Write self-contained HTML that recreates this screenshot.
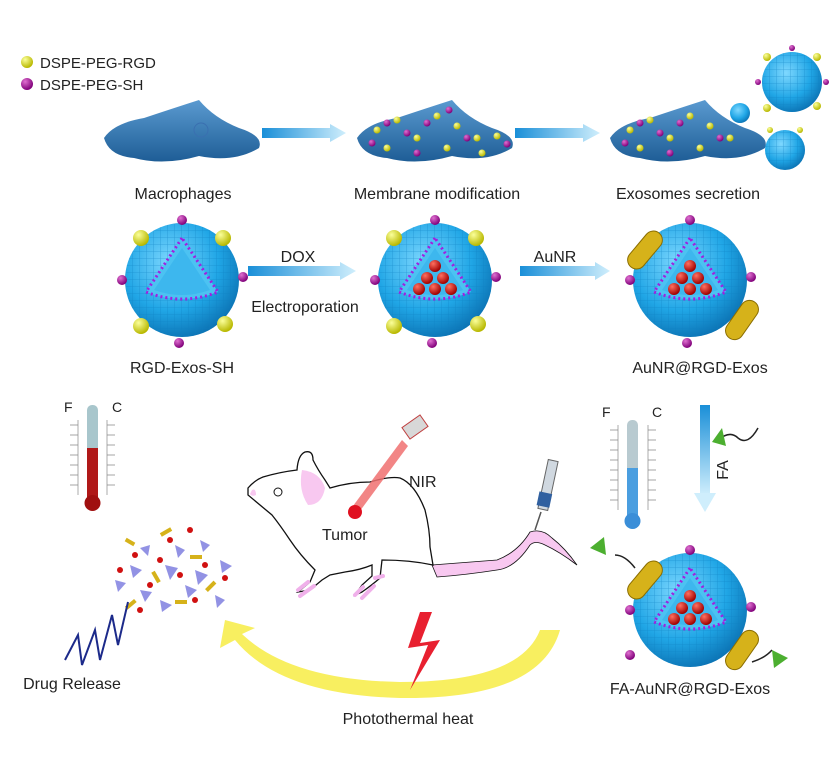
<!DOCTYPE html>
<html><head><style>
html,body{margin:0;padding:0;background:#fff}
svg text{font-family:"Liberation Sans",sans-serif;fill:#222}
</style></head><body>
<svg width="833" height="757" viewBox="0 0 833 757" xmlns="http://www.w3.org/2000/svg">
<defs>
<radialGradient id="sph" cx="0.4" cy="0.35" r="0.7">
<stop offset="0" stop-color="#7fd8ff"/><stop offset="0.6" stop-color="#20a6e6"/><stop offset="1" stop-color="#0a6fb0"/></radialGradient>
<radialGradient id="yb" cx="0.35" cy="0.3" r="0.7"><stop offset="0" stop-color="#fbff9a"/><stop offset="1" stop-color="#b8b800"/></radialGradient>
<radialGradient id="mb" cx="0.35" cy="0.3" r="0.7"><stop offset="0" stop-color="#e070d0"/><stop offset="1" stop-color="#80007a"/></radialGradient>
<radialGradient id="rb" cx="0.35" cy="0.3" r="0.7"><stop offset="0" stop-color="#ff7060"/><stop offset="1" stop-color="#a00000"/></radialGradient>
<linearGradient id="arr" x1="0" x2="1"><stop offset="0" stop-color="#1a8fd8"/><stop offset="1" stop-color="#cfeefc"/></linearGradient>
<linearGradient id="arrv" x1="0" y1="0" x2="0" y2="1"><stop offset="0" stop-color="#1a8fd8"/><stop offset="1" stop-color="#cfeefc"/></linearGradient>
<linearGradient id="cell" x1="0" y1="0" x2="0" y2="1"><stop offset="0" stop-color="#5a9ad0"/><stop offset="1" stop-color="#1e5d96"/></linearGradient>
<pattern id="grid" width="7" height="7" patternUnits="userSpaceOnUse"><rect width="7" height="7" fill="none"/><path d="M0 7H7M7 0V7" stroke="#0d7dc0" stroke-width="0.8" opacity="0.6"/></pattern>
<g id="exo">
<circle r="57" fill="url(#sph)"/><circle r="57" fill="url(#grid)"/>
<path d="M0,-42 L-36,12 Q0,26 36,12 Z" fill="#4cc2f2" stroke="#a020e0" stroke-width="3" stroke-dasharray="2 3"/>
<path d="M0,-32 L-28,10 Q0,20 28,10 Z" fill="#3ab4ec" fill-opacity="0.8"/>
</g>
<g id="lig">
<circle cx="-41" cy="-42" r="8" fill="url(#yb)"/><circle cx="41" cy="-42" r="8" fill="url(#yb)"/>
<circle cx="-41" cy="46" r="8" fill="url(#yb)"/><circle cx="43" cy="44" r="8" fill="url(#yb)"/>
<circle cx="0" cy="-60" r="5" fill="url(#mb)"/><circle cx="-60" cy="0" r="5" fill="url(#mb)"/>
<circle cx="61" cy="-3" r="5" fill="url(#mb)"/><circle cx="-3" cy="63" r="5" fill="url(#mb)"/>
</g>
<g id="dox">
<circle cx="0" cy="-14" r="6" fill="url(#rb)"/><circle cx="-8" cy="-2" r="6" fill="url(#rb)"/><circle cx="8" cy="-2" r="6" fill="url(#rb)"/>
<circle cx="-16" cy="9" r="6" fill="url(#rb)"/><circle cx="0" cy="9" r="6" fill="url(#rb)"/><circle cx="16" cy="9" r="6" fill="url(#rb)"/>
</g>
<g id="rod"><rect x="-9" y="-22" width="18" height="44" rx="9" fill="#d6b21a" stroke="#8a6d00" stroke-width="1"/></g>
<path id="cellshape" d="M0,30 Q10,15 40,10 Q70,0 95,-8 Q110,10 135,20 Q160,28 155,40 Q130,55 95,48 Q60,58 30,50 Q5,48 0,30Z"/>
</defs>

<circle cx="27" cy="62" r="6" fill="url(#yb)"/><text x="40" y="68" font-size="15">DSPE-PEG-RGD</text>
<circle cx="27" cy="84" r="6" fill="url(#mb)"/><text x="40" y="90" font-size="15">DSPE-PEG-SH</text>

<g transform="translate(104,108)"><use href="#cellshape" fill="url(#cell)"/><circle cx="97" cy="22" r="7" fill="none" stroke="#3a70b0"/></g>
<g transform="translate(357,108)"><use href="#cellshape" fill="url(#cell)"/>
<g fill="url(#yb)"><circle cx="20" cy="22" r="3.5"/><circle cx="40" cy="12" r="3.5"/><circle cx="60" cy="30" r="3.5"/><circle cx="80" cy="8" r="3.5"/><circle cx="100" cy="18" r="3.5"/><circle cx="120" cy="30" r="3.5"/><circle cx="140" cy="28" r="3.5"/><circle cx="30" cy="40" r="3.5"/><circle cx="90" cy="40" r="3.5"/><circle cx="125" cy="45" r="3.5"/></g>
<g fill="url(#mb)"><circle cx="30" cy="15" r="3.5"/><circle cx="50" cy="25" r="3.5"/><circle cx="70" cy="15" r="3.5"/><circle cx="92" cy="2" r="3.5"/><circle cx="110" cy="30" r="3.5"/><circle cx="60" cy="45" r="3.5"/><circle cx="150" cy="36" r="3.5"/><circle cx="15" cy="35" r="3.5"/></g></g>
<g transform="translate(610,108)"><use href="#cellshape" fill="url(#cell)"/>
<g fill="url(#yb)"><circle cx="20" cy="22" r="3.5"/><circle cx="40" cy="12" r="3.5"/><circle cx="60" cy="30" r="3.5"/><circle cx="80" cy="8" r="3.5"/><circle cx="100" cy="18" r="3.5"/><circle cx="120" cy="30" r="3.5"/><circle cx="30" cy="40" r="3.5"/><circle cx="90" cy="40" r="3.5"/></g>
<g fill="url(#mb)"><circle cx="30" cy="15" r="3.5"/><circle cx="50" cy="25" r="3.5"/><circle cx="70" cy="15" r="3.5"/><circle cx="110" cy="30" r="3.5"/><circle cx="60" cy="45" r="3.5"/><circle cx="15" cy="35" r="3.5"/></g></g>
<circle cx="792" cy="82" r="30" fill="url(#sph)"/><circle cx="792" cy="82" r="30" fill="url(#grid)"/>
<g fill="url(#yb)"><circle cx="767" cy="57" r="4"/><circle cx="817" cy="57" r="4"/><circle cx="767" cy="108" r="4"/><circle cx="817" cy="106" r="4"/><circle cx="770" cy="130" r="3"/><circle cx="800" cy="130" r="3"/></g>
<g fill="url(#mb)"><circle cx="792" cy="48" r="3"/><circle cx="758" cy="82" r="3"/><circle cx="826" cy="82" r="3"/></g>
<circle cx="740" cy="113" r="10" fill="url(#sph)"/>
<circle cx="785" cy="150" r="20" fill="url(#sph)"/><circle cx="785" cy="150" r="20" fill="url(#grid)"/>
<polygon points="262,128 330,128 330,124 346,133 330,142 330,138 262,138" fill="url(#arr)"/>
<polygon points="515,128 583,128 583,124 600,133 583,142 583,138 515,138" fill="url(#arr)"/>
<text x="183" y="199" font-size="16" text-anchor="middle">Macrophages</text>
<text x="437" y="199" font-size="16" text-anchor="middle">Membrane modification</text>
<text x="688" y="199" font-size="16" text-anchor="middle">Exosomes secretion</text>

<g transform="translate(182,280)"><use href="#exo"/><use href="#lig"/></g>
<g transform="translate(435,280)"><use href="#exo"/><use href="#lig"/><use href="#dox"/></g>
<g transform="translate(690,280)"><use href="#exo"/><use href="#dox"/>
<g fill="url(#mb)"><circle cx="0" cy="-60" r="5"/><circle cx="-60" cy="0" r="5"/><circle cx="61" cy="-3" r="5"/><circle cx="-3" cy="63" r="5"/></g>
<g transform="translate(-45,-30) rotate(40)"><use href="#rod"/></g>
<g transform="translate(52,40) rotate(35)"><use href="#rod"/></g></g>
<polygon points="248,266 340,266 340,262 356,271 340,280 340,276 248,276" fill="url(#arr)"/>
<polygon points="520,266 595,266 595,262 610,271 595,280 595,276 520,276" fill="url(#arr)"/>
<text x="298" y="262" font-size="16" text-anchor="middle">DOX</text>
<text x="305" y="312" font-size="16" text-anchor="middle">Electroporation</text>
<text x="555" y="262" font-size="16" text-anchor="middle">AuNR</text>
<text x="182" y="373" font-size="16" text-anchor="middle">RGD-Exos-SH</text>
<text x="700" y="373" font-size="16" text-anchor="middle">AuNR@RGD-Exos</text>

<text x="64" y="412" font-size="14">F</text><text x="112" y="412" font-size="14">C</text>
<g stroke="#888" stroke-width="0.7"><path d="M78,420V495M107,420V495"/>
<path d="M70,425h8M70,435h8M70,445h8M70,455h8M70,465h8M70,475h8M70,485h8M107,425h8M107,435h8M107,445h8M107,455h8M107,465h8M107,475h8M107,485h8"/></g>
<rect x="87" y="405" width="11" height="95" rx="5" fill="#a8c6cc"/><rect x="87" y="448" width="11" height="52" fill="#b01818"/>
<circle cx="92.5" cy="503" r="8" fill="#a01010"/>
<text x="602" y="417" font-size="14">F</text><text x="652" y="417" font-size="14">C</text>
<g stroke="#888" stroke-width="0.7"><path d="M618,425V510M648,425V510"/>
<path d="M610,430h8M610,440h8M610,450h8M610,460h8M610,470h8M610,480h8M610,490h8M610,500h8M648,430h8M648,440h8M648,450h8M648,460h8M648,470h8M648,480h8M648,490h8M648,500h8"/></g>
<rect x="627" y="420" width="11" height="100" rx="5" fill="#b8cad0"/><rect x="627" y="468" width="11" height="52" fill="#4a9ee0"/>
<circle cx="632.5" cy="521" r="8" fill="#3a8ed8"/>
<rect x="700" y="405" width="10" height="90" fill="url(#arrv)"/><polygon points="694,493 716,493 705,512" fill="#cfeefc"/>
<text x="728" y="470" font-size="16" transform="rotate(-90 728 470)" text-anchor="middle">FA</text>
<path d="M718,440 Q730,430 738,438 Q748,446 758,428" stroke="#222" stroke-width="1.5" fill="none"/>
<polygon points="712,442 722,428 726,446" fill="#4caf30"/>

<!-- mouse -->
<path d="M432,565 Q470,562 497,560 Q518,552 530,532 Q542,528 552,538 Q565,548 577,565 Q560,552 545,545 Q535,540 530,545 Q515,568 497,570 Q465,575 437,577Z" fill="#f8c8f0" stroke="#111" stroke-width="0.8"/>
<path d="M248,488 Q255,480 263,477 Q280,472 297,470 Q298,455 305,452 Q313,450 313,460 Q318,470 325,480 L330,488 Q350,482 370,482 Q390,476 400,478 Q415,484 425,510 Q430,530 430,547 L433,565 Q410,560 382,560 L380,578 Q372,585 362,592 L355,595 L362,585 L372,576 L372,565 Q360,570 345,572 L330,575 L322,580 L310,590 L298,592 L310,582 L315,570 Q300,555 290,540 Q280,525 272,515 Q260,505 248,495Z" fill="#fff" stroke="#111" stroke-width="1.3"/>
<path d="M302,470 Q320,472 325,488 Q322,505 308,505 Q298,490 302,470Z" fill="#f8c8f0"/>
<path d="M252,490 Q256,488 256,495 Q252,497 250,494Z" fill="#f8c8f0"/>
<circle cx="278" cy="492" r="4" fill="none" stroke="#111"/>
<path d="M298,590 l10,-8 M300,596 l14,-10 M355,595 l8,-8 M362,598 l12,-12 M375,578 l8,-2" stroke="#f0b0ea" stroke-width="4" stroke-linecap="round"/>
<polygon points="402,440 408,446 357,515 350,510" fill="#f07070" opacity="0.85"/>
<rect x="404" y="420" width="22" height="14" fill="#d8d8d8" stroke="#c04040" transform="rotate(-35 415 427)"/>
<circle cx="355" cy="512" r="7" fill="#e01020"/>
<text x="322" y="540" font-size="16">Tumor</text>
<text x="409" y="487" font-size="16">NIR</text>
<rect x="543" y="460" width="10" height="50" fill="#d0d8e0" stroke="#666" transform="rotate(12 548 485)"/>
<rect x="541" y="493" width="13" height="14" fill="#3060a0" transform="rotate(12 548 485)"/>
<path d="M541,512 L535,530" stroke="#555" stroke-width="1.5"/>

<g transform="translate(690,610)"><use href="#exo"/><use href="#dox"/>
<g fill="url(#mb)"><circle cx="0" cy="-60" r="5"/><circle cx="-60" cy="0" r="5"/><circle cx="61" cy="-3" r="5"/><circle cx="-60" cy="45" r="5"/></g>
<g transform="translate(-45,-30) rotate(40)"><use href="#rod"/></g>
<g transform="translate(52,40) rotate(35)"><use href="#rod"/></g>
<path d="M-55,-42 Q-65,-55 -75,-55" stroke="#222" stroke-width="1.5" fill="none"/>
<path d="M62,52 Q75,48 82,40" stroke="#222" stroke-width="1.5" fill="none"/></g>
<polygon points="590,548 604,537 606,555" fill="#4caf30"/>
<polygon points="772,650 788,658 774,668" fill="#4caf30"/>
<text x="690" y="694" font-size="16" text-anchor="middle">FA-AuNR@RGD-Exos</text>

<path d="M560,630 Q540,700 400,698 Q280,695 235,640 L220,648 L225,620 L255,628 L242,634 Q290,680 400,682 Q520,682 540,630Z" fill="#f8ef60"/>
<polygon points="420,612 408,648 428,645 410,690 440,640 420,643 432,612" fill="#e82030"/>
<text x="408" y="724" font-size="16" text-anchor="middle">Photothermal heat</text>

<g>
<rect x="125" y="540" width="10" height="4" fill="#d6b21a" transform="rotate(30 130 542)"/>
<rect x="160" y="530" width="12" height="4" fill="#d6b21a" transform="rotate(-30 166 532)"/>
<rect x="190" y="555" width="12" height="4" fill="#d6b21a"/>
<rect x="150" y="575" width="12" height="4" fill="#d6b21a" transform="rotate(60 156 577)"/>
<rect x="205" y="585" width="12" height="4" fill="#d6b21a" transform="rotate(-45 210 587)"/>
<rect x="125" y="603" width="12" height="4" fill="#d6b21a" transform="rotate(-40 130 605)"/>
<rect x="175" y="600" width="12" height="4" fill="#d6b21a"/>
<g fill="#8080e0" opacity="0.85"><polygon points="140,548 150,545 148,556"/><polygon points="175,545 185,550 178,558"/><polygon points="200,540 210,545 203,552"/><polygon points="130,565 142,570 133,578"/><polygon points="165,565 178,568 170,580"/><polygon points="195,570 208,575 198,585"/><polygon points="220,560 232,566 222,573"/><polygon points="140,590 152,592 145,602"/><polygon points="185,585 197,590 188,598"/><polygon points="160,600 172,605 162,612"/><polygon points="215,595 225,600 217,608"/><polygon points="115,580 126,583 118,592"/></g>
<g fill="#d01010"><circle cx="135" cy="555" r="3"/><circle cx="170" cy="540" r="3"/><circle cx="190" cy="530" r="3"/><circle cx="205" cy="565" r="3"/><circle cx="150" cy="585" r="3"/><circle cx="180" cy="575" r="3"/><circle cx="225" cy="578" r="3"/><circle cx="120" cy="570" r="3"/><circle cx="195" cy="600" r="3"/><circle cx="140" cy="610" r="3"/><circle cx="160" cy="560" r="3"/></g>
</g>
<polyline points="65,660 78,635 82,665 95,630 100,660 112,615 118,645 128,602" fill="none" stroke="#1c2a8a" stroke-width="2"/>
<text x="72" y="689" font-size="16" text-anchor="middle">Drug Release</text>
</svg>
</body></html>
